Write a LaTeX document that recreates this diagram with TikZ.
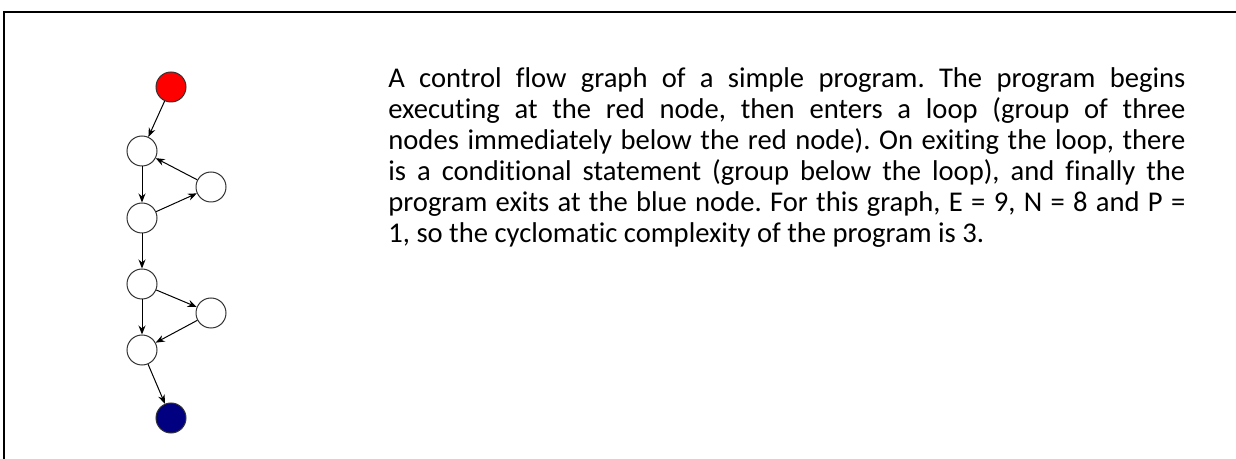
\documentclass[tikz,border=0pt]{standalone}
\usepackage{fontspec}
\setmainfont{Carlito}[Ligatures=NoCommon]
\usetikzlibrary{arrows.meta}
\definecolor{navyblue}{HTML}{000080}
\begin{document}
\begin{tikzpicture}[x=0.5pt,y=-0.5pt,
  vert/.style={circle,draw=black!80,line width=0.5pt,minimum size=15pt,inner sep=0pt,fill=white},
  edge/.style={draw=black,line width=0.5pt,-{Stealth[length=4.5pt,width=3.5pt]}},
  frame/.style={draw=black,line width=1pt}]
\useasboundingbox (0,0) rectangle (1236,459);
\draw[frame] (3.5,459) -- (3.5,12) -- (1236,12);
\node[vert,fill=red] (s) at (171,87) {};
\node[vert] (a) at (142,151) {};
\node[vert] (b) at (211,187) {};
\node[vert] (c) at (142,218) {};
\node[vert] (d) at (142,284) {};
\node[vert] (e) at (211,313) {};
\node[vert] (f) at (142,350) {};
\node[vert,fill=navyblue] (t) at (171,418) {};
\draw[edge] (s) -- (a);
\draw[edge] (a) -- (c);
\draw[edge] (b) -- (a);
\draw[edge] (c) -- (b);
\draw[edge] (c) -- (d);
\draw[edge] (d) -- (e);
\draw[edge] (d) -- (f);
\draw[edge] (e) -- (f);
\draw[edge] (f) -- (t);
\node[anchor=north west,inner sep=0pt,text width=398.5pt,align=justify,font=\fontsize{14.3}{15.5}\selectfont\frenchspacing] (txt) at (388,65.3)
{\strut A control flow graph of a simple program. The program begins\linebreak
executing at the red node, then enters a loop (group of three\linebreak
nodes immediately below the red node). On exiting the loop, there\linebreak
is a conditional statement (group below the loop), and finally the\linebreak
program exits at the blue node. For this graph, E = 9, N = 8 and P =\linebreak
1, so the cyclomatic complexity of the program is 3.};
\end{tikzpicture}
\end{document}
